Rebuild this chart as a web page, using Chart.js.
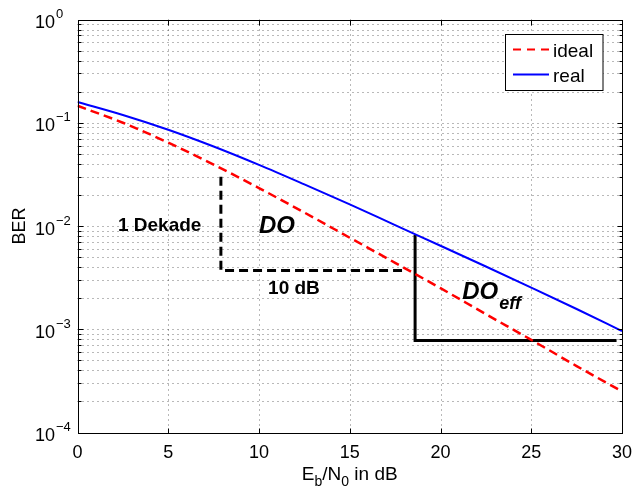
<!DOCTYPE html>
<html><head><meta charset="utf-8">
<script src="https://cdn.jsdelivr.net/npm/chart.js@4/dist/chart.umd.min.js"></script>
<style>html,body{margin:0;padding:0;background:#fff;}</style>
</head><body>
<canvas id="c" width="636" height="492" style="display:block;width:636px;height:492px"></canvas>
<script>
// ---- data ----
const snrDb    = [0, 2.5, 5, 7.5, 10, 12.5, 15, 17.5, 20, 22.5, 25, 27.5, 30];
const berIdeal = [0.146, 0.100, 0.0642, 0.0393, 0.0233, 0.0135, 0.0077, 0.0044, 0.0025, 0.0014, 0.00079, 0.00044, 0.00025];
const berReal  = [0.159, 0.119, 0.0856, 0.0589, 0.0391, 0.0253, 0.0162, 0.0102, 0.00644, 0.00405, 0.00253, 0.00157, 0.00096];
const decadeX  = [7.9, 7.9, 17.9];
const decadeY  = [0.030, 0.0037, 0.0037];
const effX     = [18.6, 18.6, 29.7];
const effY     = [0.0082, 0.00078, 0.00078];
const xTicks   = [0, 5, 10, 15, 20, 25, 30];
const yExps    = [0, -1, -2, -3, -4];
const seriesNames = ['ideal', 'real'];

const FONT = '"Liberation Sans", Arial, Helvetica, sans-serif';
const pts = (xs, ys) => xs.map((x, i) => ({x: x, y: ys[i]}));

const frame = {
  id: 'frame',
  beforeDatasetsDraw(chart) {
    const ctx = chart.ctx, a = chart.chartArea, xs = chart.scales.x, ys = chart.scales.y;
    ctx.save();
    ctx.strokeStyle = 'rgba(0,0,0,0.55)';
    ctx.lineWidth = 1;
    ctx.setLineDash([1, 4]);
    xTicks.forEach(v => {
      if (v <= xs.min || v >= xs.max) return;
      const px = Math.round(xs.getPixelForValue(v)) + 0.5;
      ctx.beginPath(); ctx.moveTo(px, a.top); ctx.lineTo(px, a.bottom); ctx.stroke();
    });
    yExps.forEach(e => {
      for (let m = 1; m <= 9; m++) {
        const v = m * Math.pow(10, e);
        if (v <= ys.min * 1.0001 || v >= ys.max * 0.9999) continue;
        const py = Math.round(ys.getPixelForValue(v)) + 0.5;
        ctx.beginPath(); ctx.moveTo(a.left, py); ctx.lineTo(a.right, py); ctx.stroke();
      }
    });
    ctx.restore();
  },
  afterDraw(chart) {
    const ctx = chart.ctx, a = chart.chartArea, xs = chart.scales.x, ys = chart.scales.y;
    ctx.save();
    ctx.setLineDash([]);
    ctx.strokeStyle = '#000';
    ctx.lineWidth = 1;
    const L = Math.round(a.left) + 0.5, R = Math.round(a.right) + 0.5, T = Math.round(a.top) + 0.5, B = Math.round(a.bottom) + 0.5;
    ctx.strokeRect(L, T, R - L, B - T);
    // inner ticks
    ctx.beginPath();
    xTicks.forEach(v => {
      const px = Math.round(xs.getPixelForValue(v)) + 0.5;
      ctx.moveTo(px, B); ctx.lineTo(px, B - 5);
      ctx.moveTo(px, T); ctx.lineTo(px, T + 5);
    });
    yExps.forEach(e => {
      for (let m = 1; m <= 9; m++) {
        const v = m * Math.pow(10, e);
        if (v < ys.min * 0.9999 || v > ys.max * 1.0001) continue;
        const py = Math.round(ys.getPixelForValue(v)) + 0.5;
        const len = m === 1 ? 5 : 3;
        ctx.moveTo(L, py); ctx.lineTo(L + len, py);
        ctx.moveTo(R, py); ctx.lineTo(R - len, py);
      }
    });
    ctx.stroke();

    ctx.fillStyle = '#000';
    // x tick labels
    ctx.font = '18px ' + FONT;
    ctx.textAlign = 'center'; ctx.textBaseline = 'alphabetic';
    xTicks.forEach(v => ctx.fillText(String(v), xs.getPixelForValue(v), a.bottom + 25.5));
    // y tick labels 10^e
    yExps.forEach(e => {
      const py = ys.getPixelForValue(Math.pow(10, e));
      ctx.font = '18px ' + FONT; ctx.textAlign = 'right';
      ctx.fillText('10', a.left - 22.5, py + 8.5);
      ctx.font = '13px ' + FONT; ctx.textAlign = 'left';
      ctx.fillText(e < 0 ? '\u2212' + Math.abs(e) : String(e), a.left - 21.5, py - 1.5);
    });
    // x title E_b/N_0 in dB
    const parts = [['E', 19, 0], ['b', 14, 6], ['/N', 19, 0], ['0', 14, 6], [' in dB', 19, 0]];
    let w = 0;
    parts.forEach(p => { ctx.font = p[1] + 'px ' + FONT; w += ctx.measureText(p[0]).width; });
    let x0 = (a.left + a.right) / 2 - w / 2;
    ctx.textAlign = 'left';
    parts.forEach(p => { ctx.font = p[1] + 'px ' + FONT; ctx.fillText(p[0], x0, 480 + p[2]); x0 += ctx.measureText(p[0]).width; });
    // y title
    ctx.save();
    ctx.translate(25, (a.top + a.bottom) / 2);
    ctx.rotate(-Math.PI / 2);
    ctx.font = '18px ' + FONT; ctx.textAlign = 'center';
    ctx.fillText('BER', 0, 0);
    ctx.restore();

    // annotations
    ctx.textAlign = 'left';
    ctx.font = 'bold 19px ' + FONT;
    ctx.fillText('1 Dekade', xs.getPixelForValue(2.23), ys.getPixelForValue(0.00902));
    ctx.fillText('10 dB', xs.getPixelForValue(10.5), ys.getPixelForValue(0.0022));
    ctx.font = 'italic bold 24px ' + FONT;
    ctx.fillText('DO', xs.getPixelForValue(10.0), ys.getPixelForValue(0.00863));
    const dx = xs.getPixelForValue(21.2), dy = ys.getPixelForValue(0.00195);
    ctx.fillText('DO', dx, dy);
    const dw = ctx.measureText('DO').width;
    ctx.font = 'italic bold 18px ' + FONT;
    ctx.fillText('eff', dx + dw + 1, dy + 10);

    // legend
    const lx = 505.5, ly = 34.5, lw = 97.5, lh = 56;
    ctx.fillStyle = '#fff';
    ctx.fillRect(lx, ly, lw, lh);
    ctx.strokeStyle = '#000'; ctx.lineWidth = 1;
    ctx.strokeRect(lx, ly, lw, lh);
    const items = [
      {name: seriesNames[0], color: '#ff0000', dash: [8, 6], y: 49.5},
      {name: seriesNames[1], color: '#0000ff', dash: [], y: 74.5}
    ];
    items.forEach(it => {
      ctx.strokeStyle = it.color; ctx.lineWidth = 2; ctx.setLineDash(it.dash);
      ctx.beginPath(); ctx.moveTo(513, it.y); ctx.lineTo(549, it.y); ctx.stroke();
      ctx.setLineDash([]);
      ctx.fillStyle = '#000'; ctx.font = '19px ' + FONT; ctx.textAlign = 'left';
      ctx.fillText(it.name, 553, it.y + 7);
    });
    ctx.restore();
  }
};

new Chart(document.getElementById('c'), {
  type: 'line',
  data: {
    datasets: [
      {label: seriesNames[0], data: pts(snrDb, berIdeal), borderColor: '#ff0000', borderWidth: 2.5,
       borderDash: [9, 5], pointRadius: 0, cubicInterpolationMode: 'monotone', fill: false},
      {label: seriesNames[1], data: pts(snrDb, berReal), borderColor: '#0000ff', borderWidth: 2,
       pointRadius: 0, cubicInterpolationMode: 'monotone', fill: false},
      {label: 'DO', data: pts(decadeX, decadeY), borderColor: '#000', borderWidth: 3,
       borderDash: [9, 5], pointRadius: 0, tension: 0, borderJoinStyle: 'miter', fill: false},
      {label: 'DOeff', data: pts(effX, effY), borderColor: '#000', borderWidth: 3,
       pointRadius: 0, tension: 0, borderJoinStyle: 'miter', borderCapStyle: 'butt', fill: false}
    ]
  },
  options: {
    responsive: false,
    animation: false,
    devicePixelRatio: 1,
    layout: {padding: {left: 0, top: 19.5, right: 14, bottom: 0}},
    plugins: {legend: {display: false}, tooltip: {enabled: false}},
    scales: {
      x: {type: 'linear', min: 0, max: 30,
          ticks: {display: false, stepSize: 5}, grid: {display: false}, border: {display: false},
          afterFit: s => { s.height = 59.5; }},
      y: {type: 'logarithmic', min: 1e-4, max: 1,
          ticks: {display: false}, grid: {display: false}, border: {display: false},
          afterFit: s => { s.width = 77.5; }}
    }
  },
  plugins: [frame]
});
</script>
</body></html>
